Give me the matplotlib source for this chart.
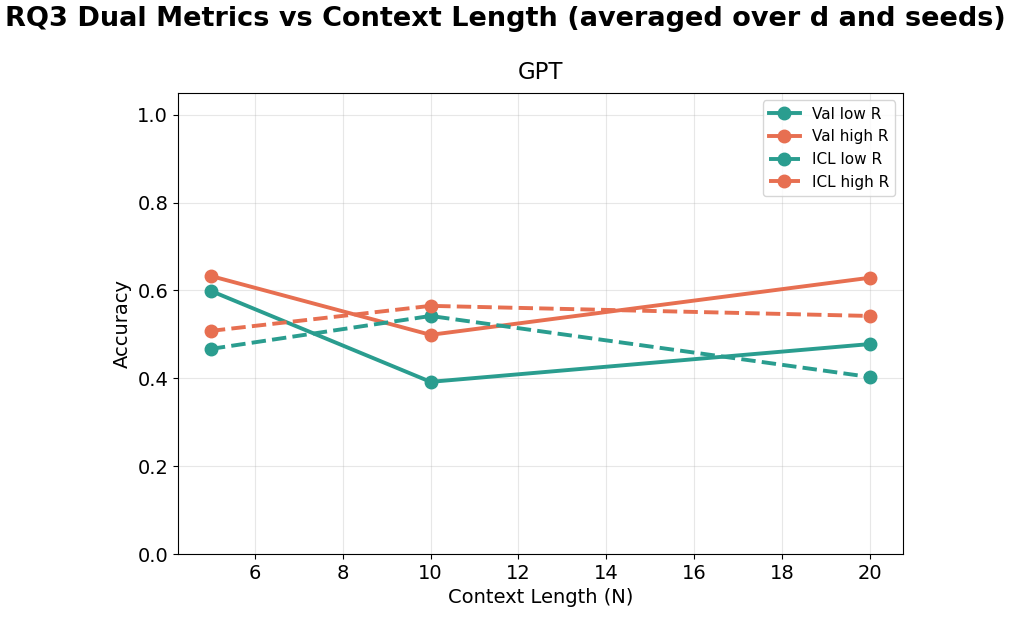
import matplotlib
matplotlib.use("Agg")
import matplotlib.pyplot as plt

context_n = [5, 10, 20]
val_low = [0.599, 0.392, 0.478]
val_high = [0.633, 0.499, 0.629]
icl_low = [0.467, 0.542, 0.403]
icl_high = [0.508, 0.565, 0.542]

teal = "#2a9d8f"
orange = "#e76f51"

fig = plt.figure(figsize=(10.11, 6.19), dpi=100)
ax = fig.add_axes([0.176, 0.105, 0.717, 0.745])

ax.plot(context_n, val_low, "-o", color=teal, lw=2.8, ms=9, label="Val low R")
ax.plot(context_n, val_high, "-o", color=orange, lw=2.8, ms=9, label="Val high R")
ax.plot(context_n, icl_low, "--o", color=teal, lw=2.8, ms=9, label="ICL low R")
ax.plot(context_n, icl_high, "--o", color=orange, lw=2.8, ms=9, label="ICL high R")

ax.set_ylim(0, 1.05)
ax.set_xlabel("Context Length (N)", fontsize=14)
ax.set_ylabel("Accuracy", fontsize=14)
ax.set_title("GPT", fontsize=16.5, pad=10)
ax.tick_params(labelsize=14)
ax.grid(True, alpha=0.3)
ax.legend(fontsize=11, loc="upper right")

fig.suptitle("RQ3 Dual Metrics vs Context Length (averaged over d and seeds)",
             fontsize=19.5, fontweight="bold", x=0.5, y=0.99)

fig.savefig("out.png", dpi=100)
